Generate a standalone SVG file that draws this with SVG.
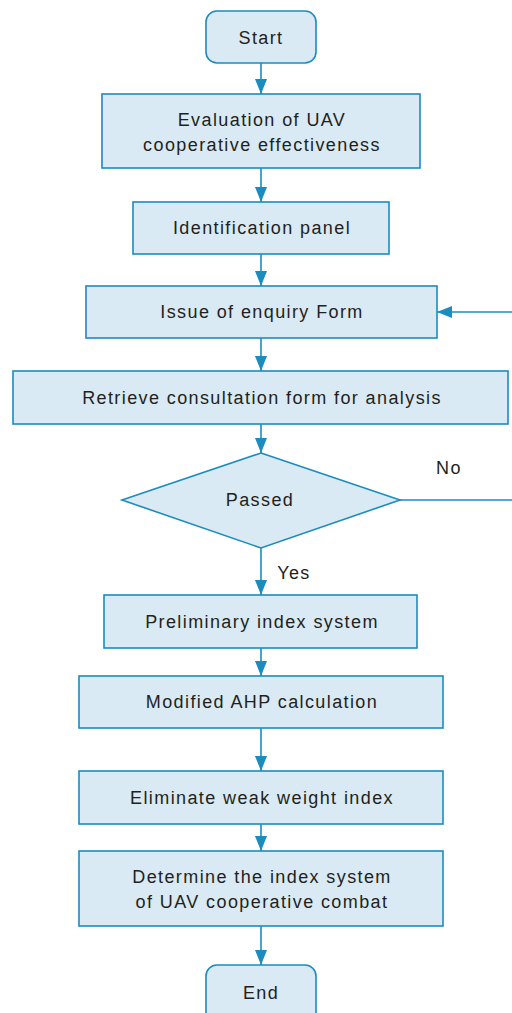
<svg xmlns="http://www.w3.org/2000/svg" width="512" height="1013" viewBox="0 0 512 1013">
<style>
.n{fill:#d9eaf4;stroke:#1b8cbf;stroke-width:1.6}
.t{font-family:"Liberation Sans",Arial,sans-serif;font-size:18px;letter-spacing:1.4px;fill:#231f20;text-anchor:middle;dominant-baseline:central}
.c{stroke:#1b8cbf;stroke-width:1.6;fill:none}
</style>
<defs>
<marker id="a" markerWidth="16" markerHeight="16" viewBox="0 0 16 16" refX="15" refY="8" orient="auto" markerUnits="userSpaceOnUse">
<path d="M0,2 L15,8 L0,14 Z" fill="#1b8cbf"/>
</marker>
</defs>
<rect width="512" height="1013" fill="#ffffff"/>
<g id="connectors">
<line class="c" x1="261" y1="63" x2="261" y2="94" marker-end="url(#a)"/>
<line class="c" x1="261" y1="168" x2="261" y2="202" marker-end="url(#a)"/>
<line class="c" x1="261" y1="254" x2="261" y2="286" marker-end="url(#a)"/>
<line class="c" x1="261" y1="338" x2="261" y2="371" marker-end="url(#a)"/>
<line class="c" x1="261" y1="424" x2="261" y2="453" marker-end="url(#a)"/>
<line class="c" x1="261" y1="548" x2="261" y2="595" marker-end="url(#a)"/>
<line class="c" x1="261" y1="648" x2="261" y2="676" marker-end="url(#a)"/>
<line class="c" x1="261" y1="728" x2="261" y2="771" marker-end="url(#a)"/>
<line class="c" x1="261" y1="824" x2="261" y2="851" marker-end="url(#a)"/>
<line class="c" x1="261" y1="926" x2="261" y2="965" marker-end="url(#a)"/>
<line class="c" x1="400" y1="500" x2="512" y2="500"/>
<line class="c" x1="512" y1="312" x2="437" y2="312" marker-end="url(#a)"/>
<text class="t" x="294" y="573">Yes</text>
<text class="t" x="449" y="468">No</text>
</g>
<g id="start"><rect class="n" x="206" y="11" width="110" height="52" rx="11"/><text class="t" x="261" y="38">Start</text></g>
<g id="eval"><rect class="n" x="102" y="94" width="318" height="74"/><text class="t" x="262" y="120">Evaluation of UAV</text><text class="t" x="262" y="145">cooperative effectiveness</text></g>
<g id="panel"><rect class="n" x="133" y="202" width="256" height="52"/><text class="t" x="262" y="228">Identification panel</text></g>
<g id="issue"><rect class="n" x="86" y="286" width="351" height="52"/><text class="t" x="262" y="312">Issue of enquiry Form</text></g>
<g id="retrieve"><rect class="n" x="13" y="371" width="495" height="53"/><text class="t" x="262" y="398">Retrieve consultation form for analysis</text></g>
<g id="passed"><polygon class="n" points="261,453 400,500 261,548 122,500"/><text class="t" x="260" y="500">Passed</text></g>
<g id="prelim"><rect class="n" x="104" y="595" width="313" height="53"/><text class="t" x="262" y="622">Preliminary index system</text></g>
<g id="ahp"><rect class="n" x="79" y="676" width="364" height="52"/><text class="t" x="262" y="702">Modified AHP calculation</text></g>
<g id="elim"><rect class="n" x="79" y="771" width="364" height="53"/><text class="t" x="262" y="798">Eliminate weak weight index</text></g>
<g id="determine"><rect class="n" x="79" y="851" width="364" height="75"/><text class="t" x="262" y="877">Determine the index system</text><text class="t" x="262" y="902">of UAV cooperative combat</text></g>
<g id="end"><rect class="n" x="206" y="965" width="110" height="60" rx="11"/><text class="t" x="261" y="993">End</text></g>
</svg>
